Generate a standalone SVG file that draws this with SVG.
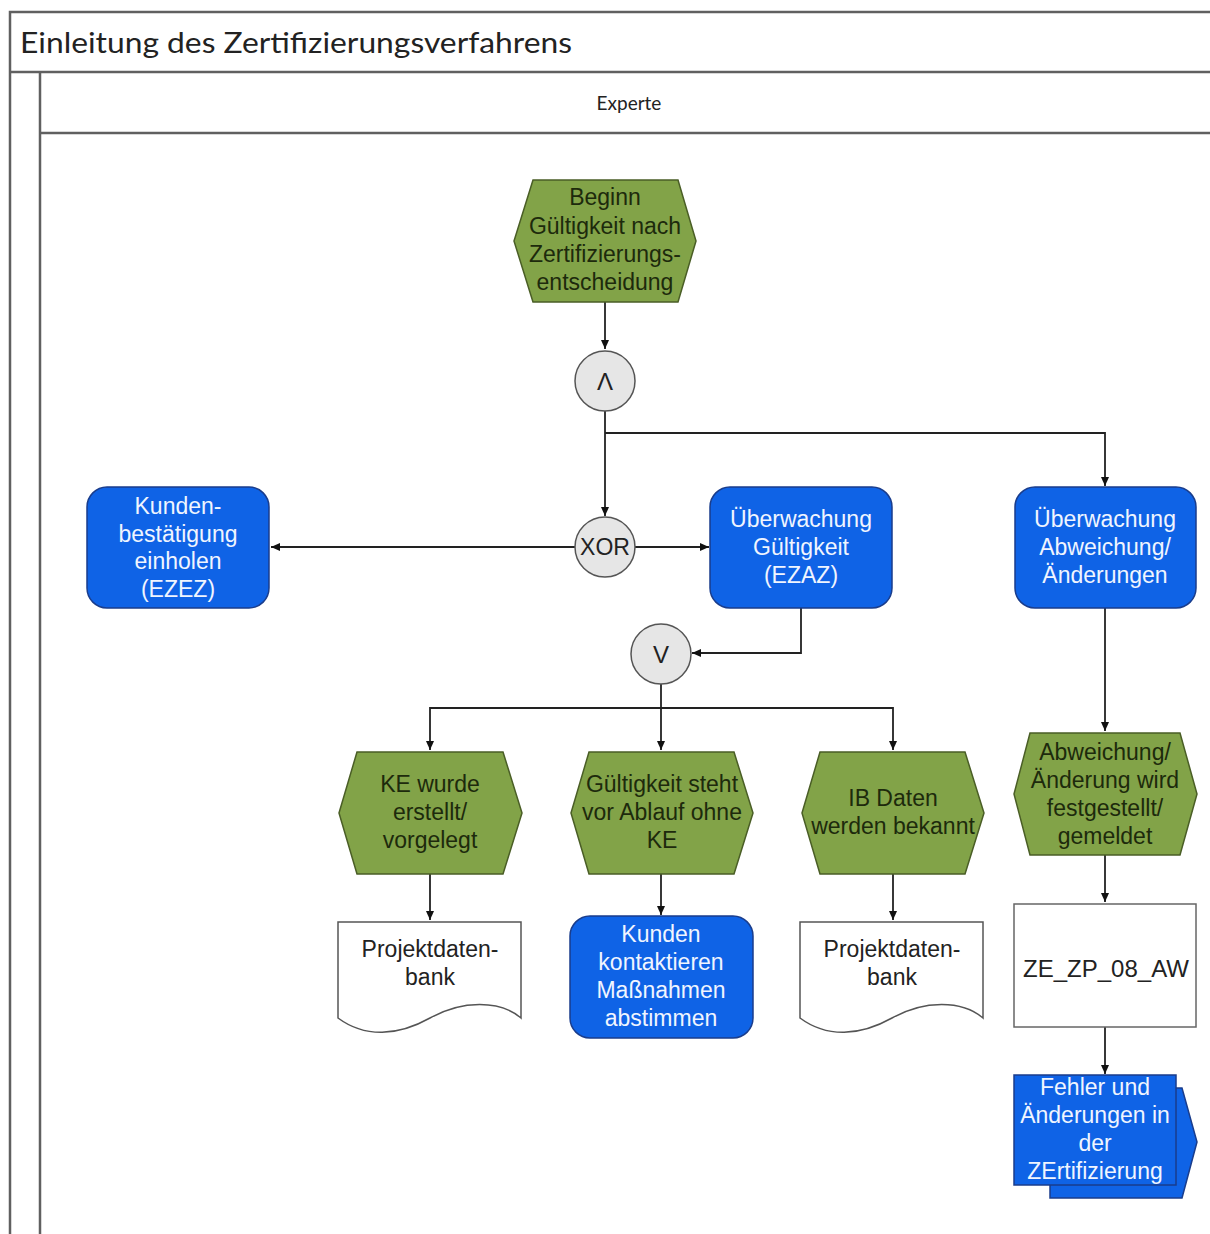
<svg xmlns="http://www.w3.org/2000/svg" width="1210" height="1234" viewBox="0 0 1210 1234">
<style>
.lane{fill:none;stroke:#606060;stroke-width:2.5}
.ev{fill:#82a348;stroke:#4a5e26;stroke-width:1.5}
.fn{fill:#0f63e6;stroke:#1a3d8c;stroke-width:1.5}
.doc{fill:#fff;stroke:#555;stroke-width:1.5}
.op{fill:#e6e6e6;stroke:#555;stroke-width:1.5}
.c{fill:none;stroke:#222;stroke-width:1.8}
.t{font-family:"Liberation Sans",Arial,sans-serif;font-size:23px;text-anchor:middle}
.tw{fill:#f0f5ff}
.tg{fill:#1d2a0c}
.tk{fill:#222}
.sym{font-family:"Liberation Sans",Arial,sans-serif;font-size:24px;text-anchor:middle;fill:#222}
</style>
<defs>
<marker id="ah" markerWidth="10" markerHeight="10" refX="9" refY="5" orient="auto" markerUnits="userSpaceOnUse">
<path d="M0,1 L9,5 L0,9 Z" fill="#111"/>
</marker>
</defs>
<rect width="1210" height="1234" fill="#fff"/>
<g id="pool">
<path class="lane" d="M1210,12 H10 V1234 M10,72 H1210 M40,72 V1234 M40,133 H1210"/>
<text x="20" y="53" font-family="Lato,'Open Sans',sans-serif" font-size="29" fill="#222" textLength="552" lengthAdjust="spacingAndGlyphs">Einleitung des Zertifizierungsverfahrens</text>
<text x="629" y="110" font-family="Lato,'Open Sans',sans-serif" font-size="19" fill="#222" text-anchor="middle">Experte</text>
</g>
<g id="connectors">
<path class="c" d="M605,302 V349" marker-end="url(#ah)"/>
<path class="c" d="M605,411 V516" marker-end="url(#ah)"/>
<path class="c" d="M605,433 H1105 V486" marker-end="url(#ah)"/>
<path class="c" d="M575,547 H271" marker-end="url(#ah)"/>
<path class="c" d="M635,547 H709" marker-end="url(#ah)"/>
<path class="c" d="M801,608 V653 H692" marker-end="url(#ah)"/>
<path class="c" d="M661,684 V750" marker-end="url(#ah)"/>
<path class="c" d="M661,708 H430 V750" marker-end="url(#ah)"/>
<path class="c" d="M661,708 H893 V750" marker-end="url(#ah)"/>
<path class="c" d="M430,874 V920" marker-end="url(#ah)"/>
<path class="c" d="M661,874 V915" marker-end="url(#ah)"/>
<path class="c" d="M893,874 V920" marker-end="url(#ah)"/>
<path class="c" d="M1105,608 V731" marker-end="url(#ah)"/>
<path class="c" d="M1105,855 V902" marker-end="url(#ah)"/>
<path class="c" d="M1105,1027 V1074" marker-end="url(#ah)"/>
</g>
<g id="start">
<polygon class="ev" points="533,180 678,180 696,241 678,302 533,302 514,241"/>
<text class="t tg" x="605" y="205">Beginn</text>
<text class="t tg" x="605" y="234">Gültigkeit nach</text>
<text class="t tg" x="605" y="262">Zertifizierungs-</text>
<text class="t tg" x="605" y="290">entscheidung</text>
</g>
<g id="and">
<circle class="op" cx="605" cy="381" r="30"/>
<text class="sym" x="605" y="390">Λ</text>
</g>
<g id="xor">
<circle class="op" cx="605" cy="547" r="30"/>
<text class="t tk" x="605" y="555">XOR</text>
</g>
<g id="kunden">
<rect class="fn" x="87" y="487" width="182" height="121" rx="20"/>
<text class="t tw" x="178" y="514">Kunden-</text>
<text class="t tw" x="178" y="542">bestätigung</text>
<text class="t tw" x="178" y="569">einholen</text>
<text class="t tw" x="178" y="597">(EZEZ)</text>
</g>
<g id="ueb-gueltigkeit">
<rect class="fn" x="710" y="487" width="182" height="121" rx="20"/>
<text class="t tw" x="801" y="527">Überwachung</text>
<text class="t tw" x="801" y="555">Gültigkeit</text>
<text class="t tw" x="801" y="583">(EZAZ)</text>
</g>
<g id="ueb-abweichung">
<rect class="fn" x="1015" y="487" width="181" height="121" rx="20"/>
<text class="t tw" x="1105" y="527">Überwachung</text>
<text class="t tw" x="1105" y="555">Abweichung/</text>
<text class="t tw" x="1105" y="583">Änderungen</text>
</g>
<g id="or">
<circle class="op" cx="661" cy="654" r="30"/>
<text class="sym" x="661" y="663">V</text>
</g>
<g id="ke">
<polygon class="ev" points="357,752 503,752 522,813 503,874 357,874 339,813"/>
<text class="t tg" x="430" y="792">KE wurde</text>
<text class="t tg" x="430" y="820">erstellt/</text>
<text class="t tg" x="430" y="848">vorgelegt</text>
</g>
<g id="gueltigkeit-steht">
<polygon class="ev" points="589,752 734,752 753,813 734,874 589,874 571,813"/>
<text class="t tg" x="662" y="792">Gültigkeit steht</text>
<text class="t tg" x="662" y="820">vor Ablauf ohne</text>
<text class="t tg" x="662" y="848">KE</text>
</g>
<g id="ib-daten">
<polygon class="ev" points="820,752 965,752 984,813 965,874 820,874 802,813"/>
<text class="t tg" x="893" y="806">IB Daten</text>
<text class="t tg" x="893" y="834">werden bekannt</text>
</g>
<g id="abweichung-event">
<polygon class="ev" points="1030,733 1180,733 1197,794 1180,855 1030,855 1014,794"/>
<text class="t tg" x="1105" y="760">Abweichung/</text>
<text class="t tg" x="1105" y="788">Änderung wird</text>
<text class="t tg" x="1105" y="816">festgestellt/</text>
<text class="t tg" x="1105" y="844">gemeldet</text>
</g>
<g id="doc1">
<path class="doc" d="M338,922 H521 V1018 C500,1000 462,1000 430,1018 C398,1036 365,1038 338,1018 Z"/>
<text class="t tk" x="430" y="957">Projektdaten-</text>
<text class="t tk" x="430" y="985">bank</text>
</g>
<g id="kunden-kontaktieren">
<rect class="fn" x="570" y="916" width="183" height="122" rx="20"/>
<text class="t tw" x="661" y="942">Kunden</text>
<text class="t tw" x="661" y="970">kontaktieren</text>
<text class="t tw" x="661" y="998">Maßnahmen</text>
<text class="t tw" x="661" y="1026">abstimmen</text>
</g>
<g id="doc2">
<path class="doc" d="M800,922 H983 V1018 C962,1000 924,1000 892,1018 C860,1036 827,1038 800,1018 Z"/>
<text class="t tk" x="892" y="957">Projektdaten-</text>
<text class="t tk" x="892" y="985">bank</text>
</g>
<g id="ze-zp">
<rect x="1014" y="904" width="182" height="123" fill="#fff" stroke="#666" stroke-width="1.5"/>
<text class="t tk" x="1106" y="977" style="font-size:24px">ZE_ZP_08_AW</text>
</g>
<g id="fehler">
<polygon class="fn" points="1050,1088 1182,1088 1197,1142 1182,1198 1050,1198"/>
<rect class="fn" x="1014" y="1075" width="162" height="110"/>
<text class="t tw" x="1095" y="1095">Fehler und</text>
<text class="t tw" x="1095" y="1123">Änderungen in</text>
<text class="t tw" x="1095" y="1151">der</text>
<text class="t tw" x="1095" y="1179">ZErtifizierung</text>
</g>
</svg>
